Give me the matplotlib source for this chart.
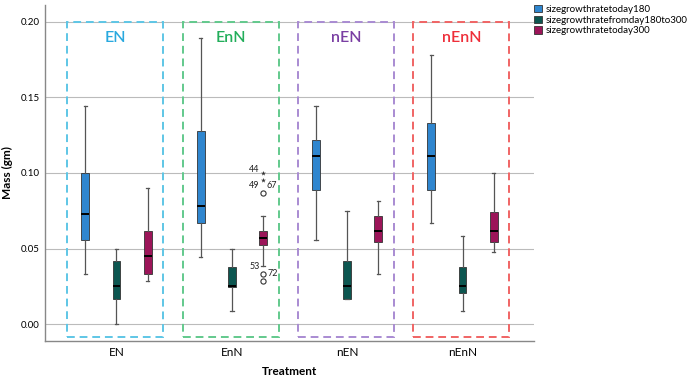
import matplotlib
matplotlib.use("Agg")
import matplotlib.pyplot as plt
from matplotlib.patches import Rectangle, Patch

plt.rcParams['font.family'] = ['Lato', 'DejaVu Sans']

categories = ["EN", "EnN", "nEN", "nEnN"]
series = ["sizegrowthratetoday180", "sizegrowthratefromday180to300", "sizegrowthratetoday300"]
series_colors = ["#2F86CF", "#0C5650", "#9C1559"]

# per series: values for EN, EnN, nEN, nEnN
whislo = {
    series[0]: [0.0335, 0.0447, 0.0557, 0.0668],
    series[1]: [0.0000, 0.0086, 0.0169, 0.0086],
    series[2]: [0.0288, 0.0386, 0.0335, 0.0478],
}
q1 = {
    series[0]: [0.0557, 0.0668, 0.0890, 0.0890],
    series[1]: [0.0169, 0.0249, 0.0169, 0.0207],
    series[2]: [0.0335, 0.0524, 0.0546, 0.0546],
}
med = {
    series[0]: [0.0727, 0.0780, 0.1115, 0.1115],
    series[1]: [0.0253, 0.0251, 0.0253, 0.0253],
    series[2]: [0.0454, 0.0573, 0.0619, 0.0619],
}
q3 = {
    series[0]: [0.1000, 0.1278, 0.1220, 0.1333],
    series[1]: [0.0419, 0.0377, 0.0419, 0.0377],
    series[2]: [0.0619, 0.0619, 0.0718, 0.0741],
}
whishi = {
    series[0]: [0.1444, 0.1890, 0.1444, 0.1780],
    series[1]: [0.0500, 0.0500, 0.0751, 0.0586],
    series[2]: [0.0903, 0.0718, 0.0813, 0.1000],
}

# outliers (EnN, sizegrowthratetoday300)
extreme_values = [0.1000, 0.0954]
extreme_labels = ["44", "49"]
outlier_values = [0.0866, 0.0335, 0.0288]
outlier_labels = ["67", "72", "53"]

group_colors = ["#29A9DF", "#23AE5B", "#7A3FA3", "#EE2F3A"]
frame_colors = ["#5EC6E6", "#62C98C", "#A98BD2", "#F06464"]

fig = plt.figure(figsize=(6.94, 3.81), dpi=100)
ax = fig.add_axes([0.0648, 0.105, 0.7047, 0.882])

offsets = [-0.27, 0.0, 0.27]
bw = 0.068
for s, (name, col, off) in enumerate(zip(series, series_colors, offsets)):
    stats = []
    for i in range(len(categories)):
        stats.append(dict(whislo=whislo[name][i], q1=q1[name][i], med=med[name][i],
                          q3=q3[name][i], whishi=whishi[name][i], fliers=[]))
    ax.bxp(stats, positions=[i + off for i in range(len(categories))], widths=bw,
           patch_artist=True, showfliers=False,
           boxprops=dict(facecolor=col, edgecolor="#333333", linewidth=0.6),
           medianprops=dict(color="black", linewidth=1.4),
           whiskerprops=dict(color="#555555", linewidth=0.9),
           capprops=dict(color="#555555", linewidth=0.9), capwidths=0.03,
           manage_ticks=False, zorder=3)

# outliers
xo = 1 + offsets[2]
ax.scatter([xo] * len(extreme_values), extreme_values, marker="*", s=14,
           color="#333333", zorder=4, linewidths=0)
ax.scatter([xo] * len(outlier_values), outlier_values, marker="o", s=14,
           facecolors="white", edgecolors="#333333", linewidths=0.8, zorder=4)
ax.text(xo - 0.03, 0.1025, extreme_labels[0], fontsize=6.5, ha="right", va="center", color="#222222")
ax.text(xo - 0.03, 0.0915, extreme_labels[1], fontsize=6.5, ha="right", va="center", color="#222222")
ax.text(xo + 0.03, 0.0915, outlier_labels[0], fontsize=6.5, ha="left", va="center", color="#222222")
ax.text(xo + 0.04, 0.0335, outlier_labels[1], fontsize=6.5, ha="left", va="center", color="#222222")
ax.text(xo - 0.03, 0.0385, outlier_labels[2], fontsize=6.5, ha="right", va="center", color="#222222")

# dashed group frames and titles
for i, cat in enumerate(categories):
    ax.add_patch(Rectangle((i - 0.425, -0.0082), 0.83, 0.2082, fill=False,
                           edgecolor=frame_colors[i], linestyle=(0, (4, 2.5)),
                           linewidth=1.4, zorder=2))
    ax.text(i - 0.01, 0.189, cat, color=group_colors[i], fontsize=11.5,
            fontweight="semibold", ha="center", va="center", zorder=5)

ax.set_xlim(-0.62, 3.62)
ax.set_ylim(-0.011, 0.211)
ax.set_yticks([0.0, 0.05, 0.10, 0.15, 0.20])
ax.set_yticklabels(["0.00", "0.05", "0.10", "0.15", "0.20"], fontsize=7)
ax.set_xticks(range(len(categories)))
ax.set_xticklabels(categories, fontsize=8.5)
ax.tick_params(axis="y", length=0, pad=4)
ax.tick_params(axis="x", length=0, pad=4)
ax.yaxis.grid(True, color="#BBBBBB", linewidth=0.8, zorder=0)
ax.set_axisbelow(True)
for sp in ["top", "right"]:
    ax.spines[sp].set_visible(False)
for sp in ["left", "bottom"]:
    ax.spines[sp].set_color("#888888")
    ax.spines[sp].set_linewidth(1.0)
ax.set_xlabel("Treatment", fontsize=8.5, fontweight="bold", labelpad=6)
ax.set_ylabel("Mass (gm)", fontsize=8.5, fontweight="bold", labelpad=5)

handles = [Patch(facecolor=c, edgecolor="#333333", linewidth=0.6) for c in series_colors]
ax.legend(handles, series, loc="upper left", bbox_to_anchor=(1.0, 1.0), frameon=False,
          fontsize=7, handlelength=0.8, handleheight=0.8, handletextpad=0.4,
          labelspacing=0.15, borderaxespad=0.0, borderpad=0.0)

fig.savefig("out.png", dpi=100)
